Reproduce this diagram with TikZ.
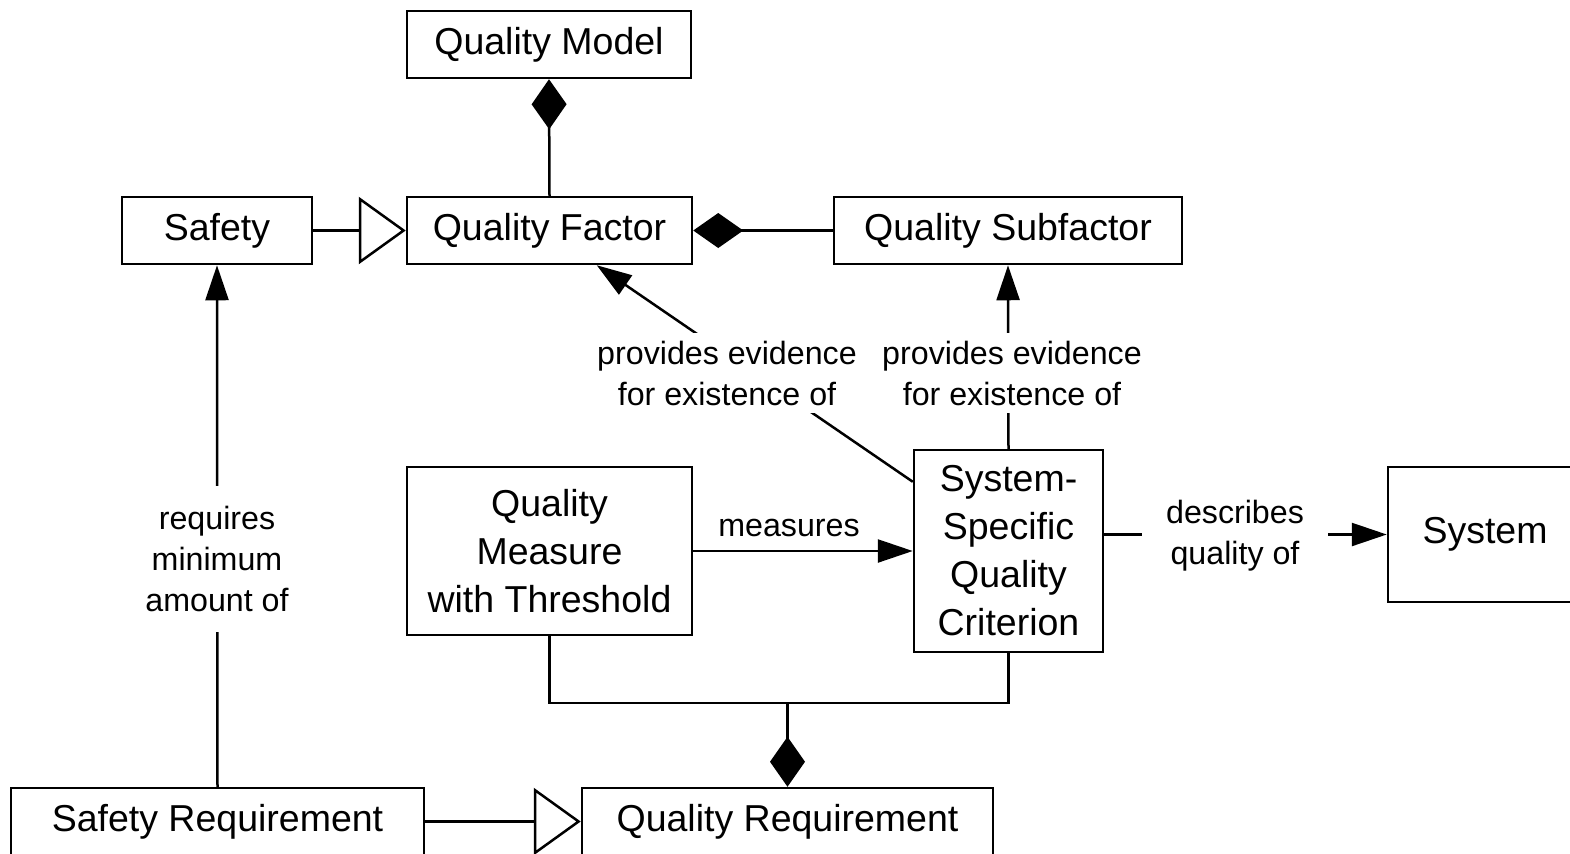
\documentclass[tikz,border=0pt]{standalone}
\usepackage{fontspec}
\setmainfont{Liberation Sans}
\usetikzlibrary{arrows.meta,calc}
\begin{document}
\begin{tikzpicture}[x=0.5pt,y=-0.5pt,
  line width=1.25pt,
  box/.style={draw, line width=1.25pt, align=center, inner sep=0pt,
    font=\fontsize{18.75}{24}\selectfont},
  lab/.style={fill=white, align=center, inner sep=4pt,
    font=\fontsize{16.1}{20.5}\selectfont},
  arr/.style={-{Triangle[length=17.5pt,width=11.5pt]}},
  gen/.style={-{Triangle[open,length=23.5pt,width=33.5pt,fill=white]}},
  comp/.style={{Diamond[length=25pt,width=17.5pt]}-}]
  \useasboundingbox (0,0) rectangle (1570,853);
  \clip (0,0) rectangle (1570,853);

  % classes
  \node[box, minimum width=142pt, minimum height=33.5pt] (qm) at (549,44.5) {Quality Model};
  \node[box, minimum width=95pt, minimum height=33.5pt] (safety) at (217,230.5) {Safety};
  \node[box, minimum width=142.5pt, minimum height=33.5pt] (qf) at (549.5,230.5) {Quality Factor};
  \node[box, minimum width=174pt, minimum height=33.5pt] (qs) at (1008,230.5) {Quality Subfactor};
  \node[box, minimum width=142.5pt, minimum height=84pt] (qmt) at (549.5,551) {Quality\\Measure\\with Threshold};
  \node[box, minimum width=94.5pt, minimum height=101pt] (crit) at (1008.5,551) {System-\\Specific\\Quality\\Criterion};
  \node[box, minimum width=97pt, minimum height=67.5pt] (sys) at (1485,534.5) {System};
  \node[box, minimum width=206.5pt, minimum height=33.5pt] (sreq) at (217.5,821.5) {Safety Requirement};
  \node[box, minimum width=205.5pt, minimum height=33.5pt] (qreq) at (787.5,821.5) {Quality Requirement};

  % composition and generalisation
  \draw[comp] (qm.south) -- (qf.north);
  \draw[gen] (safety.east) -- (qf.west);
  \draw[comp] (qf.east) -- (qs.west);
  \draw[gen] (sreq.east) -- (qreq.west);

  \coordinate (bar) at (0,703);
  \draw (qmt.south) -- (qmt.south |- bar) -- (crit.south |- bar) -- (crit.south);
  \draw[comp] (qreq.north) -- (qreq.north |- bar);

  % associations
  \coordinate (evq) at ($(crit.north west)+(0,33)$);
  \coordinate (evt) at ($(qf.south west)+(191,0)$);
  \draw[arr] (evq) -- (evt);
  \node[lab] (lab1) at (727,373) {provides evidence\\for existence of};

  \draw[arr] (crit.north) -- (qs.south);
  \node[lab] (lab2) at (1012,373) {provides evidence\\for existence of};

  \draw[arr] (qmt.east) -- (crit.west);
  \node[lab, fill=none] (lab3) at (789,528) {measures};

  \draw[arr] (crit.east |- sys.west) -- (sys.west);
  \node[lab, inner xsep=12pt] (lab4) at (1235,536) {describes\\quality of};

  \draw[arr] (sreq.north) -- (safety.south);
  \node[lab, inner ysep=10pt] (lab5) at (217,559) {requires\\minimum\\amount of};
\end{tikzpicture}
\end{document}
